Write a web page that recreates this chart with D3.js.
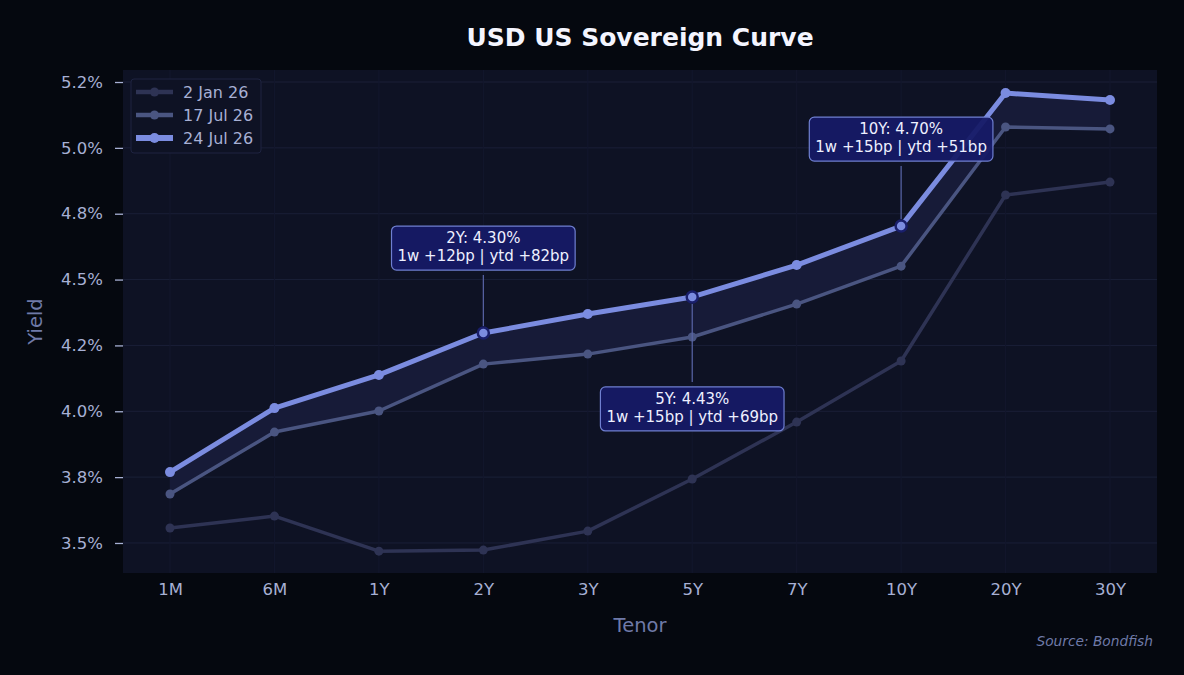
<!DOCTYPE html>
<html>
<head>
<meta charset="utf-8">
<script src="https://cdn.jsdelivr.net/npm/d3@7"></script>
<style>
  body { margin: 0; background: #05080f; }
  svg { display: block; font-family: "DejaVu Sans", sans-serif; }
</style>
</head>
<body>
<div id="chart"></div>
<script>
const tenors = ["1M", "6M", "1Y", "2Y", "3Y", "5Y", "7Y", "10Y", "20Y", "30Y"];
const jan2 = [3.557, 3.602, 3.469, 3.473, 3.545, 3.743, 3.959, 4.191, 4.821, 4.870];
const jul17 = [3.686, 3.921, 4.001, 4.179, 4.217, 4.282, 4.407, 4.551, 5.079, 5.072];
const jul24 = [3.769, 4.012, 4.138, 4.297, 4.369, 4.434, 4.555, 4.703, 5.208, 5.182];
const yTicks = [3.5, 3.75, 4.0, 4.25, 4.5, 4.75, 5.0, 5.25];
const yTickLabels = ["3.5%", "3.8%", "4.0%", "4.2%", "4.5%", "4.8%", "5.0%", "5.2%"];
const seriesNames = ["2 Jan 26", "17 Jul 26", "24 Jul 26"];
const callouts = [
  { tenor: "2Y", lines: ["2Y: 4.30%", "1w +12bp | ytd +82bp"], dy: -85 },
  { tenor: "5Y", lines: ["5Y: 4.43%", "1w +15bp | ytd +69bp"], dy: 112 },
  { tenor: "10Y", lines: ["10Y: 4.70%", "1w +15bp | ytd +51bp"], dy: -87 }
];

const width = 1184, height = 675;
const margin = { top: 70, right: 27, bottom: 102, left: 123 };
const innerW = width - margin.left - margin.right;
const innerH = height - margin.top - margin.bottom;

const svg = d3.select("#chart").append("svg")
  .attr("width", width)
  .attr("height", height);

svg.append("rect").attr("width", width).attr("height", height).attr("fill", "#05080f");

const g = svg.append("g").attr("transform", `translate(${margin.left},${margin.top})`);

g.append("rect").attr("width", innerW).attr("height", innerH).attr("fill", "#0e1224");

const x = d3.scalePoint().domain(tenors).range([0, innerW]).padding(0.45);
const y = d3.scaleLinear().domain([3.386, 5.2956]).range([innerH, 0]);

// grid
g.append("g").selectAll("line").data(yTicks).enter().append("line")
  .attr("x1", 0).attr("x2", innerW)
  .attr("y1", d => y(d)).attr("y2", d => y(d))
  .attr("stroke", "#1a1f37").attr("stroke-width", 1);
g.append("g").selectAll("line").data(tenors).enter().append("line")
  .attr("x1", d => x(d)).attr("x2", d => x(d))
  .attr("y1", 0).attr("y2", innerH)
  .attr("stroke", "#13172d").attr("stroke-width", 1);

// axes
const yAxis = g.append("g")
  .call(d3.axisLeft(y).tickValues(yTicks).tickSize(8).tickPadding(12)
    .tickFormat((d, i) => yTickLabels[i]));
yAxis.select(".domain").remove();
yAxis.selectAll("line").attr("stroke", "#a7b0d4").attr("stroke-width", 1.3);
yAxis.selectAll("text").attr("fill", "#a7b0d4").attr("font-size", 16.5).attr("font-family", "DejaVu Sans");

const xAxis = g.append("g").attr("transform", `translate(0,${innerH})`)
  .call(d3.axisBottom(x).tickSize(0).tickPadding(10));
xAxis.select(".domain").remove();
xAxis.selectAll("text").attr("fill", "#a7b0d4").attr("font-size", 16.5).attr("font-family", "DejaVu Sans");

// band between last two curves
const area = d3.area()
  .x((d, i) => x(tenors[i]))
  .y0((d, i) => y(jul17[i]))
  .y1(d => y(d));
g.append("path").datum(jul24).attr("d", area).attr("fill", "#171b38");

const line = d3.line().x((d, i) => x(tenors[i])).y(d => y(d));
const styles = [
  { data: jan2, color: "#2e3354", width: 3.5, r: 4.5 },
  { data: jul17, color: "#4a5581", width: 3.5, r: 4.5 },
  { data: jul24, color: "#7b8ce0", width: 5, r: 5 }
];
styles.forEach(s => {
  g.append("path").datum(s.data).attr("d", line)
    .attr("fill", "none").attr("stroke", s.color).attr("stroke-width", s.width)
    .attr("stroke-linejoin", "round");
  g.append("g").selectAll("circle").data(s.data).enter().append("circle")
    .attr("cx", (d, i) => x(tenors[i])).attr("cy", d => y(d))
    .attr("r", s.r).attr("fill", s.color);
});

// callouts
callouts.forEach(c => {
  const i = tenors.indexOf(c.tenor);
  const px = x(c.tenor), py = y(jul24[i]);
  const by = py + c.dy;
  const boxH = 44;
  const y1 = c.dy < 0 ? by + boxH / 2 + 5 : by - boxH / 2 - 5;
  const y2 = c.dy < 0 ? py - 7 : py + 7;
  g.append("line").attr("x1", px).attr("x2", px).attr("y1", y1).attr("y2", y2)
    .attr("stroke", "#5a66a8").attr("stroke-width", 1.2);
  g.append("circle").attr("cx", px).attr("cy", py).attr("r", 5.5)
    .attr("fill", "#7b8ce0").attr("stroke", "#1a1f6b").attr("stroke-width", 2.5);
  const box = g.append("g").attr("transform", `translate(${px},${by})`);
  const rect = box.append("rect");
  const texts = box.selectAll("text").data(c.lines).enter().append("text")
    .attr("x", 0).attr("y", (d, k) => -5 + k * 18)
    .attr("text-anchor", "middle")
    .attr("fill", "#eef0ff").attr("font-size", 15)
    .text(d => d);
  const tw = d3.max(texts.nodes(), n => n.getComputedTextLength());
  const boxW = tw + 12;
  rect.attr("x", -boxW / 2).attr("y", -boxH / 2)
    .attr("width", boxW).attr("height", boxH).attr("rx", 5)
    .attr("fill", "#161a66").attr("fill-opacity", 0.95)
    .attr("stroke", "#6f7fd0").attr("stroke-width", 1.2);
});

// legend
const legend = g.append("g").attr("transform", "translate(8,9)");
legend.append("rect").attr("width", 130).attr("height", 74).attr("rx", 3)
  .attr("fill", "#0e1224").attr("stroke", "#1e2340");
seriesNames.forEach((name, i) => {
  const row = legend.append("g").attr("transform", `translate(5,${13 + i * 23})`);
  row.append("line").attr("x1", 0).attr("x2", 37).attr("y1", 0).attr("y2", 0)
    .attr("stroke", styles[i].color).attr("stroke-width", styles[i].width + 1);
  row.append("circle").attr("cx", 18.5).attr("cy", 0).attr("r", styles[i].r).attr("fill", styles[i].color);
  row.append("text").attr("x", 47).attr("y", 5.5).attr("fill", "#a7b0d4")
    .attr("font-size", 16).text(name);
});

// titles
svg.append("text").attr("x", 640).attr("y", 45.5).attr("text-anchor", "middle")
  .attr("fill", "#f4f5ff").attr("font-size", 25).attr("font-weight", "bold")
  .text("USD US Sovereign Curve");
svg.append("text").attr("x", margin.left + innerW / 2).attr("y", 632).attr("text-anchor", "middle")
  .attr("fill", "#6f7aa8").attr("font-size", 19.5).text("Tenor");
svg.append("text").attr("transform", `translate(41.5,${margin.top + innerH / 2}) rotate(-90)`)
  .attr("text-anchor", "middle").attr("fill", "#6f7aa8").attr("font-size", 19.5).text("Yield");
svg.append("text").attr("x", 1153).attr("y", 645.5).attr("text-anchor", "end")
  .attr("fill", "#6f7aa8").attr("font-size", 13.75).attr("font-style", "italic")
  .text("Source: Bondfish");
</script>
</body>
</html>
